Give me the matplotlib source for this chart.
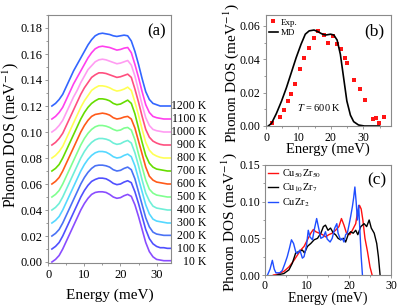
import numpy as np
import matplotlib
matplotlib.use("Agg")
import matplotlib.pyplot as plt
from matplotlib.ticker import MultipleLocator

plt.rcParams['font.family'] = ['Liberation Serif', 'DejaVu Serif']
plt.rcParams['mathtext.fontset'] = 'stix'
plt.rcParams['font.size'] = 9

###############################################################################
# data
# (a) phonon DOS at each temperature, shifted by 0.01 per curve
energy_a = np.arange(1, 35)
temps = ["10 K", "100 K", "200 K", "300 K", "400 K", "500 K", "600 K",
         "700 K", "800 K", "900 K", "1000 K", "1100 K", "1200 K"]
offsets = [0.00, 0.01, 0.02, 0.03, 0.04, 0.05, 0.06,
           0.07, 0.08, 0.09, 0.10, 0.11, 0.12]
colors_a = ["#8a4dff", "#5050ff", "#4a72f5", "#55d8ff", "#6fefd8", "#80ff90",
            "#ff5a1a", "#66dd00", "#ffff55", "#ff4f7f", "#ff9cf2", "#ff40ee",
            "#3366ff"]
dos_10 = [0.000, 0.002, 0.005, 0.010, 0.016, 0.022, 0.028, 0.034, 0.040, 0.045, 0.049, 0.052, 0.0535, 0.054, 0.054, 0.0535, 0.052, 0.050, 0.049, 0.0495, 0.051, 0.052, 0.0505, 0.044, 0.035, 0.025, 0.015, 0.008, 0.004, 0.002, 0.0015, 0.001, 0.001, 0.001]
dos_100 = [0.000, 0.002, 0.005, 0.010, 0.016, 0.022, 0.028, 0.034, 0.040, 0.045, 0.049, 0.052, 0.0535, 0.0545, 0.0545, 0.054, 0.0525, 0.0505, 0.0495, 0.050, 0.0515, 0.0525, 0.051, 0.044, 0.035, 0.025, 0.015, 0.008, 0.004, 0.002, 0.001, 0.001, 0.0005, 0.0005]
dos_200 = [0.000, 0.002, 0.005, 0.010, 0.016, 0.022, 0.028, 0.034, 0.040, 0.045, 0.049, 0.052, 0.054, 0.0545, 0.0545, 0.054, 0.053, 0.051, 0.050, 0.0505, 0.052, 0.053, 0.051, 0.044, 0.034, 0.024, 0.014, 0.007, 0.003, 0.0015, 0.001, 0.0005, 0.0005, 0.0005]
dos_300 = [0.000, 0.002, 0.005, 0.010, 0.016, 0.022, 0.028, 0.034, 0.040, 0.045, 0.049, 0.052, 0.054, 0.055, 0.055, 0.0545, 0.053, 0.051, 0.050, 0.0505, 0.052, 0.053, 0.051, 0.044, 0.034, 0.024, 0.014, 0.007, 0.003, 0.0015, 0.001, 0.0005, 0.0, 0.0]
dos_400 = [0.000, 0.002, 0.005, 0.010, 0.016, 0.022, 0.028, 0.034, 0.040, 0.045, 0.049, 0.052, 0.054, 0.055, 0.055, 0.0545, 0.0535, 0.0515, 0.0505, 0.051, 0.0525, 0.0535, 0.0515, 0.044, 0.034, 0.023, 0.013, 0.007, 0.003, 0.0015, 0.001, 0.0005, 0.0, 0.0]
dos_500 = [0.000, 0.002, 0.005, 0.010, 0.016, 0.022, 0.028, 0.034, 0.040, 0.045, 0.049, 0.052, 0.054, 0.055, 0.055, 0.0545, 0.0535, 0.052, 0.051, 0.0515, 0.053, 0.0535, 0.0515, 0.044, 0.033, 0.023, 0.013, 0.006, 0.003, 0.0015, 0.001, 0.0005, 0.0, 0.0]
dos_600 = [0.000, 0.002, 0.005, 0.010, 0.016, 0.022, 0.028, 0.034, 0.040, 0.045, 0.049, 0.052, 0.0535, 0.054, 0.0545, 0.054, 0.053, 0.051, 0.050, 0.0505, 0.0515, 0.052, 0.050, 0.043, 0.033, 0.023, 0.013, 0.006, 0.003, 0.0015, 0.001, 0.0005, 0.0, 0.0]
dos_700 = [0.000, 0.002, 0.005, 0.010, 0.016, 0.022, 0.028, 0.034, 0.040, 0.045, 0.049, 0.052, 0.054, 0.0555, 0.0555, 0.055, 0.054, 0.052, 0.051, 0.0515, 0.053, 0.0545, 0.052, 0.044, 0.033, 0.022, 0.012, 0.006, 0.003, 0.0015, 0.001, 0.0005, 0.0, 0.0]
dos_800 = [0.000, 0.002, 0.005, 0.009, 0.015, 0.021, 0.027, 0.033, 0.039, 0.044, 0.048, 0.052, 0.054, 0.0555, 0.0555, 0.055, 0.054, 0.0525, 0.0515, 0.052, 0.053, 0.0545, 0.052, 0.043, 0.033, 0.022, 0.012, 0.006, 0.003, 0.0015, 0.0005, 0.0, 0.0, 0.0]
dos_900 = [0.000, 0.002, 0.005, 0.009, 0.015, 0.021, 0.027, 0.033, 0.039, 0.044, 0.048, 0.052, 0.054, 0.0555, 0.0555, 0.055, 0.054, 0.053, 0.052, 0.0525, 0.0535, 0.0545, 0.052, 0.043, 0.033, 0.022, 0.012, 0.006, 0.003, 0.0015, 0.0005, 0.0, 0.0, 0.0]
dos_1000 = [0.000, 0.002, 0.005, 0.009, 0.015, 0.021, 0.027, 0.032, 0.038, 0.043, 0.048, 0.051, 0.054, 0.0555, 0.056, 0.0555, 0.0545, 0.0535, 0.0525, 0.053, 0.054, 0.055, 0.0515, 0.043, 0.032, 0.021, 0.011, 0.005, 0.002, 0.001, 0.0005, 0.0, 0.0, 0.0]
dos_1100 = [0.000, 0.002, 0.005, 0.009, 0.015, 0.021, 0.027, 0.032, 0.037, 0.042, 0.047, 0.051, 0.054, 0.0555, 0.056, 0.0555, 0.055, 0.054, 0.053, 0.0535, 0.0545, 0.055, 0.051, 0.042, 0.032, 0.021, 0.011, 0.005, 0.002, 0.001, 0.0005, 0.0, 0.0, 0.0]
dos_1200 = [0.000, 0.002, 0.005, 0.009, 0.015, 0.021, 0.027, 0.032, 0.037, 0.042, 0.047, 0.051, 0.054, 0.0555, 0.056, 0.0555, 0.055, 0.054, 0.0535, 0.054, 0.0545, 0.054, 0.050, 0.042, 0.032, 0.021, 0.011, 0.005, 0.002, 0.001, 0.0, 0.0, 0.0, 0.0]
dos_a = [dos_10, dos_100, dos_200, dos_300, dos_400, dos_500, dos_600,
         dos_700, dos_800, dos_900, dos_1000, dos_1100, dos_1200]

# (b) experiment vs MD at 600 K
exp_E = [2.0, 4.2, 5.5, 6.8, 7.8, 8.8, 10.5, 11.6, 13.3, 14.8, 16.1, 17.9, 19.1,
         20.7, 21.8, 23.1, 24.2, 25.1, 27.2, 29.1, 30.4, 33.1, 34.0, 34.8, 36.2]
exp_dos = [0.0015, 0.0055, 0.0095, 0.015, 0.019, 0.025, 0.034, 0.0407, 0.047,
           0.0526, 0.0567, 0.0543, 0.050, 0.054, 0.049, 0.046, 0.041, 0.0377,
           0.0274, 0.0224, 0.0155, 0.0042, 0.0046, 0.0016, 0.0052]
md_E = [0.7, 1.7, 3.2, 4.8, 6.3, 7.8, 9.3, 10.8, 12.1, 13.3, 14.8, 16.0, 17.4,
        18.4, 19.9, 20.9, 21.9, 22.9, 23.9, 24.9, 26.0, 27.0, 28.5, 30.3, 35.0]
md_dos = [0.0, 0.0016, 0.0075, 0.015, 0.023, 0.032, 0.041, 0.049, 0.055, 0.057,
          0.0575, 0.0565, 0.055, 0.0545, 0.055, 0.0545, 0.0515, 0.043, 0.029,
          0.015, 0.0065, 0.0026, 0.0006, 0.0, 0.0]

# (c) three compositions
cu50_E = [2.0, 3.0, 4.5, 5.7, 6.9, 7.7, 8.5, 9.3, 10.1, 10.9, 11.5, 12.1, 12.9,
          13.7, 14.4, 15.2, 16.0, 16.8, 17.6, 18.2, 18.8, 19.4, 20.2, 20.8,
          21.6, 22.0, 22.5, 22.9, 23.3, 23.8, 24.4, 25.0, 25.5]
cu50_dos = [0.0, 0.001, 0.005, 0.011, 0.020, 0.027, 0.034, 0.039, 0.048, 0.057,
            0.062, 0.059, 0.057, 0.055, 0.052, 0.055, 0.057, 0.061, 0.066,
            0.077, 0.068, 0.057, 0.055, 0.061, 0.070, 0.085, 0.095, 0.090,
            0.075, 0.050, 0.032, 0.011, 0.0]
cu10_E = [2.9, 4.5, 5.7, 6.5, 7.3, 8.1, 8.9, 9.4, 10.1, 10.9, 11.7, 12.5, 13.3,
          13.9, 14.4, 15.0, 15.6, 16.3, 16.8, 17.4, 18.0, 18.7, 19.2, 19.8,
          20.4, 21.0, 21.6, 22.1, 22.8, 23.6, 24.2, 24.8, 25.3, 26.0, 26.6,
          27.0, 27.4]
cu10_dos = [0.0, 0.002, 0.007, 0.016, 0.030, 0.032, 0.034, 0.030, 0.039, 0.043,
            0.048, 0.050, 0.057, 0.066, 0.068, 0.061, 0.064, 0.057, 0.055,
            0.050, 0.048, 0.050, 0.045, 0.055, 0.059, 0.057, 0.061, 0.055,
            0.066, 0.070, 0.066, 0.075, 0.064, 0.057, 0.043, 0.025, 0.0]
cuzr2_E = [0.6, 1.2, 1.75, 2.2, 2.6, 3.5, 4.1, 4.7, 5.3, 5.8, 6.3, 6.8, 7.3,
           7.7, 8.3, 8.9, 9.3, 9.9, 10.3, 10.7, 11.3, 11.7, 12.3, 12.7, 13.3,
           13.9, 14.4, 14.8, 15.5, 16.0, 16.6, 17.1, 17.4, 18.0, 18.4, 18.8,
           19.2, 19.6, 20.0, 20.4, 20.8, 21.1, 21.4, 21.7, 22.0, 22.3, 22.6,
           22.9, 23.2]
cuzr2_dos = [0.0, 0.008, 0.020, 0.008, 0.003, 0.003, 0.006, 0.015, 0.025,
             0.036, 0.048, 0.043, 0.032, 0.029, 0.034, 0.023, 0.025, 0.041,
             0.061, 0.052, 0.048, 0.061, 0.077, 0.066, 0.050, 0.052, 0.059,
             0.049, 0.045, 0.050, 0.064, 0.070, 0.057, 0.048, 0.050, 0.045,
             0.055, 0.057, 0.068, 0.080, 0.093, 0.105, 0.120, 0.100, 0.075,
             0.095, 0.060, 0.025, 0.0]

###############################################################################
W, H = 399, 305
fig = plt.figure(figsize=(W / 100, H / 100), dpi=100)


def box(l, t, r, b):
    return [l / W, 1 - b / H, (r - l) / W, (b - t) / H]


def style(ax, size=9, pad=1.5):
    for s in ax.spines.values():
        s.set_color("#8a8a8a")
        s.set_linewidth(0.8)
    ax.tick_params(which="both", direction="out", color="#8a8a8a",
                   width=0.6, labelsize=size, pad=pad)
    ax.tick_params(which="major", length=2.5)
    ax.tick_params(which="minor", length=1.5)


ylab = "Phonon DOS (meV$^{-1}$)"

# (a)
ax_a = fig.add_axes(box(48.3, 15, 171, 263.3))
for i in range(len(temps)):
    ax_a.plot(energy_a, np.array(dos_a[i]) + offsets[i], color=colors_a[i], lw=1.2)
    ax_a.text(1.29, offsets[i], temps[i], transform=ax_a.get_yaxis_transform(),
              ha="right", va="center", fontsize=8.5)
ax_a.set_xlim(0, 34)
ax_a.set_ylim(-0.001, 0.19)
ax_a.xaxis.set_major_locator(MultipleLocator(10))
ax_a.xaxis.set_minor_locator(MultipleLocator(5))
ax_a.yaxis.set_major_locator(MultipleLocator(0.02))
ax_a.yaxis.set_minor_locator(MultipleLocator(0.01))
ax_a.yaxis.set_major_formatter(matplotlib.ticker.FormatStrFormatter("%.2f"))
ax_a.text(0.88, 0.935, "(a)", transform=ax_a.transAxes, ha="center", va="center", fontsize=12)
style(ax_a)
fig.text(11 / W, 1 - 135 / H, ylab, rotation=90, ha="center", va="center", fontsize=11.5)
fig.text(110 / W, 1 - 295 / H, "Energy (meV)", ha="center", va="center", fontsize=11)

# (b)
ax_b = fig.add_axes(box(266, 15, 391, 126))
ax_b.plot(exp_E, exp_dos, "s", color="#ff1414", ms=3.2, mew=0, label="Exp.")
ax_b.plot(md_E, md_dos, color="black", lw=1.2, label="MD")
ax_b.set_xlim(0, 38.5)
ax_b.set_ylim(0, 0.0665)
ax_b.xaxis.set_major_locator(MultipleLocator(10))
ax_b.xaxis.set_minor_locator(MultipleLocator(5))
ax_b.yaxis.set_major_locator(MultipleLocator(0.02))
ax_b.yaxis.set_minor_locator(MultipleLocator(0.01))
ax_b.yaxis.set_major_formatter(matplotlib.ticker.FormatStrFormatter("%.2f"))
ax_b.legend(loc="upper left", bbox_to_anchor=(0.02, 0.97), frameon=False,
            fontsize=6.5, handlelength=1.0, handletextpad=0.4,
            labelspacing=0.25, borderpad=0, borderaxespad=0)
ax_b.text(0.87, 0.85, "(b)", transform=ax_b.transAxes, ha="center", va="center", fontsize=12.5)
ax_b.text(16.4, 0.011, "$T$ = 600 K", ha="center", va="center", fontsize=7.5)
style(ax_b, 8.5)
fig.text(231 / W, 1 - 73 / H, ylab, rotation=90, ha="center", va="center", fontsize=11)
fig.text(328 / W, 1 - 149 / H, "Energy (meV)", ha="center", va="center", fontsize=10.5)

# (c)
ax_c = fig.add_axes(box(265, 165, 391, 275))
ax_c.plot(cu50_E, cu50_dos, color="#ff1010", lw=1.0, label="Cu$_{50}$Zr$_{50}$")
ax_c.plot(cu10_E, cu10_dos, color="black", lw=1.0, label="Cu$_{10}$Zr$_{7}$")
ax_c.plot(cuzr2_E, cuzr2_dos, color="#1f4dff", lw=1.0, label="CuZr$_{2}$")
ax_c.set_xlim(0, 30)
ax_c.set_ylim(0, 0.15)
ax_c.xaxis.set_major_locator(MultipleLocator(10))
ax_c.xaxis.set_minor_locator(MultipleLocator(5))
ax_c.yaxis.set_major_locator(MultipleLocator(0.05))
ax_c.yaxis.set_minor_locator(MultipleLocator(0.025))
ax_c.yaxis.set_major_formatter(matplotlib.ticker.FormatStrFormatter("%.2f"))
ax_c.legend(loc="upper left", bbox_to_anchor=(0.02, 0.98), frameon=False,
            fontsize=7.5, handlelength=1.0, handletextpad=0.4,
            labelspacing=0.2, borderpad=0, borderaxespad=0)
ax_c.text(0.89, 0.86, "(c)", transform=ax_c.transAxes, ha="center", va="center", fontsize=12.5)
style(ax_c, 8.5, 1.0)
fig.text(229.5 / W, 1 - 222 / H, ylab, rotation=90, ha="center", va="center", fontsize=11)
fig.text(328 / W, 1 - 298 / H, "Energy (meV)", ha="center", va="center", fontsize=10)

fig.savefig("out.png", dpi=100)
